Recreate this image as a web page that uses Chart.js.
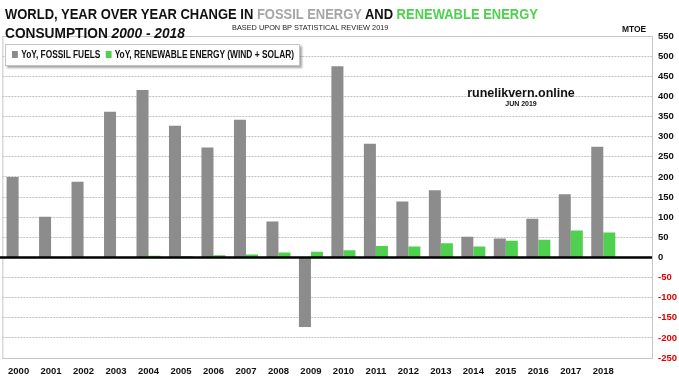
<!DOCTYPE html>
<html>
<head>
<meta charset="utf-8">
<script src="https://cdn.jsdelivr.net/npm/chart.js@4.4.1/dist/chart.umd.min.js"></script>
<style>
  html, body { margin:0; padding:0; background:#fff; }
  #wrap { position:relative; width:679px; height:376px; overflow:hidden; font-family:"Liberation Sans", Arial, sans-serif; }
  #c { position:absolute; left:0; top:0; }
  .abs { position:absolute; white-space:nowrap; transform-origin:0 50%; }
  .t { font-weight:700; font-size:15px; color:#111; line-height:18px; }
  .grey { color:#a6a6a6; }
  .green { color:#4fd04f; }
  #legend { position:absolute; left:5px; top:44px; height:20px; background:#fff; border:1px solid #c4c4c4;
            box-shadow:2px 2px 2px rgba(0,0,0,0.35); }
  #legInner { position:absolute; left:6px; top:4px; white-space:nowrap; font-weight:700; font-size:10px; color:#111; transform-origin:0 50%; }
  .sq { display:inline-block; width:7px; height:7px; margin-right:4px; vertical-align:0px; }
</style>
</head>
<body>
<div id="wrap">
  <canvas id="c" width="679" height="376"></canvas>
  <div class="abs t" id="t1" style="left:5px; top:5px;">WORLD, YEAR OVER YEAR CHANGE IN <span class="grey">FOSSIL ENERGY</span> AND <span class="green">RENEWABLE ENERGY</span></div>
  <div class="abs t" id="t2" style="left:5px; top:24px;">CONSUMPTION <i>2000 - 2018</i></div>
  <div class="abs" id="src" style="left:232px; top:23px; font-size:8px; color:#222;">BASED UPON BP STATISTICAL REVIEW 2019</div>
  <div class="abs" id="unit" style="left:622px; top:23px; font-size:9.5px; font-weight:700; color:#111;">MTOE</div>
  <div id="legend"><div id="legInner"></div></div>
  <div class="abs" id="wm" style="left:0; top:86px; width:1042px; text-align:center; font-size:12.5px; font-weight:700; color:#111;">runelikvern.online</div>
  <div class="abs" id="wm2" style="left:0; top:100px; width:1042px; text-align:center; font-size:7px; font-weight:700; color:#111;">JUN 2019</div>
</div>
<script>
const years = ['2000','2001','2002','2003','2004','2005','2006','2007','2008','2009','2010','2011','2012','2013','2014','2015','2016','2017','2018'];
const fossilYoY = [200, 101, 188, 362, 416, 327, 273, 342, 89, -173, 475, 282, 139, 167, 51, 47, 96, 157, 275];
const renewableYoY = [0, 0, 1, 1, 4, 3, 5, 7, 12, 14, 18, 28, 27, 35, 27, 41, 44, 67, 62];
const seriesNames = ['YoY, FOSSIL FUELS', 'YoY, RENEWABLE ENERGY (WIND + SOLAR)'];
const seriesColors = ['#8c8c8c', '#4fd04f'];
const yMin = -250, yMax = 550, yStep = 50;

const FONT = 'Liberation Sans';

// legend (HTML, real text)
const legInner = document.getElementById('legInner');
seriesNames.forEach((n, i) => {
  const sq = document.createElement('span'); sq.className = 'sq'; sq.style.background = seriesColors[i];
  legInner.appendChild(sq);
  const tx = document.createElement('span'); tx.textContent = n; tx.style.marginRight = i === 0 ? '6px' : '0';
  legInner.appendChild(tx);
});

function fit(id, w) {
  const el = document.getElementById(id);
  const sw = el.scrollWidth || el.getBoundingClientRect().width;
  el.style.transform = 'scaleX(' + (w / sw) + ')';
}
fit('t1', 533);
fit('t2', 180);
fit('src', 156);
fit('unit', 24);
fit('legInner', 282);
document.getElementById('legend').style.width = '293px';

const borderPlugin = {
  id: 'frame',
  beforeDatasetsDraw(chart) {
    const a = chart.chartArea, ctx = chart.ctx;
    ctx.save();
    ctx.strokeStyle = '#c6c6c6'; ctx.lineWidth = 1;
    ctx.strokeRect(a.left + 0.5, a.top + 0.5, a.right - a.left, a.bottom - a.top);
    ctx.restore();
  },
  afterDatasetsDraw(chart) {
    const a = chart.chartArea, ctx = chart.ctx;
    const y = chart.scales.y.getPixelForValue(0);
    ctx.save();
    ctx.strokeStyle = '#000'; ctx.lineWidth = 2.5;
    ctx.beginPath(); ctx.moveTo(0, y); ctx.lineTo(a.right, y); ctx.stroke();
    ctx.restore();
  }
};

new Chart(document.getElementById('c'), {
  type: 'bar',
  data: {
    labels: years.concat(['']),
    datasets: [
      { label: seriesNames[0], data: fossilYoY, backgroundColor: seriesColors[0], categoryPercentage: 0.74, barPercentage: 1.0 },
      { label: seriesNames[1], data: renewableYoY, backgroundColor: seriesColors[1], categoryPercentage: 0.74, barPercentage: 1.0 }
    ]
  },
  options: {
    responsive: false,
    animation: false,
    devicePixelRatio: 1,
    layout: { padding: { left: 1, top: 36, right: 0, bottom: 0 } },
    plugins: { legend: { display: false }, tooltip: { enabled: false }, title: { display: false } },
    scales: {
      x: {
        grid: { display: false, drawTicks: false },
        border: { display: false },
        ticks: { color: '#111', font: { family: FONT, size: 9.5, weight: 'bold' }, padding: 8, maxRotation: 0, autoSkip: false },
        afterFit(s) { s.height = 18; }
      },
      y: {
        position: 'right',
        min: yMin, max: yMax,
        grid: { color: '#c2c2c2', drawTicks: false, lineWidth: 1 },
        border: { display: false, dash: [2, 1] },
        ticks: {
          stepSize: yStep, padding: 6,
          font: { family: FONT, size: 9.5, weight: 'bold' },
          color: (c) => (c.tick && c.tick.value < 0) ? '#e00000' : '#111'
        },
        afterFit(s) { s.width = 27; }
      }
    }
  },
  plugins: [borderPlugin]
});
</script>
</body>
</html>
